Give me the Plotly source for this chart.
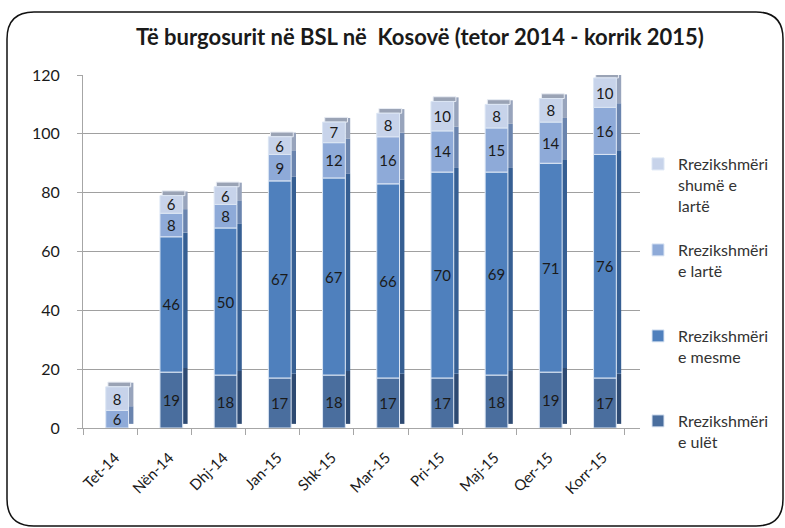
import plotly.graph_objects as go

categories = ["Tet-14", "Nën-14", "Dhj-14", "Jan-15", "Shk-15", "Mar-15", "Pri-15", "Maj-15", "Qer-15", "Korr-15"]
low = [0, 19, 18, 17, 18, 17, 17, 18, 19, 17]
medium = [0, 46, 50, 67, 67, 66, 70, 69, 71, 76]
high = [6, 8, 8, 9, 12, 16, 14, 15, 14, 16]
very_high = [8, 6, 6, 6, 7, 8, 10, 8, 8, 10]

series_names = ["Rrezikshmëri<br>e ulët", "Rrezikshmëri<br>e mesme",
                "Rrezikshmëri<br>e lartë", "Rrezikshmëri<br>shumë e<br>lartë"]
series = [low, medium, high, very_high]
front_colors = ["#4A6E9E", "#4F80BD", "#8EAAD8", "#C7D3EA"]
side_colors = ["#2E4A72", "#365F93", "#6A84AE", "#98A4BC"]
legend_ids = ["legend4", "legend3", "legend2", "legend"]
legend_tops_px = [404, 319, 233, 147]

FONT = "Lato"
W, H = 785, 528
ML, MR, MT, MB = 83, 145, 75, 100
PW, PH = W - ML - MR, H - MT - MB

fig = go.Figure()

bases = []
cum = [0] * len(categories)
for vals in series:
    bases.append(list(cum))
    cum = [c + v for c, v in zip(cum, vals)]

# side faces (depth effect)
for vals, base, sc in zip(series, bases, side_colors):
    fig.add_trace(go.Bar(
        x=categories, y=vals, base=[b + 1.4 if v else b for b, v in zip(base, vals)],
        width=0.09, offset=0.34, marker=dict(color=sc, line=dict(width=0)),
        showlegend=False, hoverinfo="skip"))

# top caps
fig.add_trace(go.Bar(
    x=categories, y=[1.6] * len(categories), base=cum,
    width=0.42, offset=-0.04, marker=dict(color="#9AA3B5", line=dict(color="#E8ECF4", width=1)),
    showlegend=False, hoverinfo="skip"))

# front faces
for vals, base, fc, name, lid in zip(series, bases, front_colors, series_names, legend_ids):
    fig.add_trace(go.Bar(
        x=categories, y=vals, base=base, name=name, legend=lid,
        width=0.42, offset=-0.08,
        marker=dict(color=fc, line=dict(color="#DCE6F4", width=1)),
        text=[str(v) if v else "" for v in vals], textposition="inside",
        insidetextanchor="middle", textangle=0,
        textfont=dict(family=FONT, size=15, color="#1A1A1A")))


def px_x(p):
    return (p - ML) / PW


def px_y(p):
    return (H - MB - p) / PH


# rounded chart border
x0, x1, y0, y1, r = 7, 783, 12, 526, 27
path = (f"M {px_x(x0)},{px_y(y0 + r)} Q {px_x(x0)},{px_y(y0)} {px_x(x0 + r)},{px_y(y0)} "
        f"L {px_x(x1 - r)},{px_y(y0)} Q {px_x(x1)},{px_y(y0)} {px_x(x1)},{px_y(y0 + r)} "
        f"L {px_x(x1)},{px_y(y1 - r)} Q {px_x(x1)},{px_y(y1)} {px_x(x1 - r)},{px_y(y1)} "
        f"L {px_x(x0 + r)},{px_y(y1)} Q {px_x(x0)},{px_y(y1)} {px_x(x0)},{px_y(y1 - r)} Z")
fig.add_shape(type="path", path=path, xref="paper", yref="paper",
              line=dict(color="#111111", width=1.5), layer="below")

legend_common = dict(x=px_x(638), xanchor="left", yanchor="top", valign="top",
                     font=dict(family=FONT, size=16, color="#333333"),
                     itemwidth=30, bgcolor="rgba(0,0,0,0)", tracegroupgap=0)
legends = {}
for lid, top in zip(legend_ids, legend_tops_px):
    legends[lid] = dict(legend_common, y=px_y(top))

fig.update_layout(
    width=W, height=H,
    margin=dict(l=ML, r=MR, t=MT, b=MB, autoexpand=False),
    paper_bgcolor="white", plot_bgcolor="white",
    barmode="overlay",
    title=dict(text="<b>Të burgosurit në BSL në  Kosovë (tetor 2014 - korrik 2015)</b>",
               x=0.535, xanchor="center", y=0.93, yanchor="middle", yref="container",
               font=dict(family=FONT, size=22, color="#1A1A1A")),
    font=dict(family=FONT, size=14, color="#1A1A1A"),
    uniformtext=dict(mode="show", minsize=15),
    xaxis=dict(range=[-0.5, 9.777], tickangle=-45, showgrid=False, showline=True,
               linecolor="#A6A6A6", ticks="outside", tickson="boundaries", ticklen=6,
               tickcolor="#A6A6A6", tickwidth=1.3, ticklabelshift=5, ticklabelstandoff=14,
               tickfont=dict(family=FONT, size=15, color="#1A1A1A")),
    yaxis=dict(range=[0, 120], dtick=20, showgrid=True, gridcolor="#A0A0A0", gridwidth=1.3,
               showline=True, linecolor="#A6A6A6", ticks="outside", ticklen=5,
               tickcolor="#A6A6A6", zeroline=False, ticklabelstandoff=14,
               tickfont=dict(family=FONT, size=16, color="#1A1A1A")),
    **legends,
)

fig.write_html("out.html", config={"displayModeBar": False},
               post_script="document.body.style.margin='0';document.body.style.overflow='hidden';")
